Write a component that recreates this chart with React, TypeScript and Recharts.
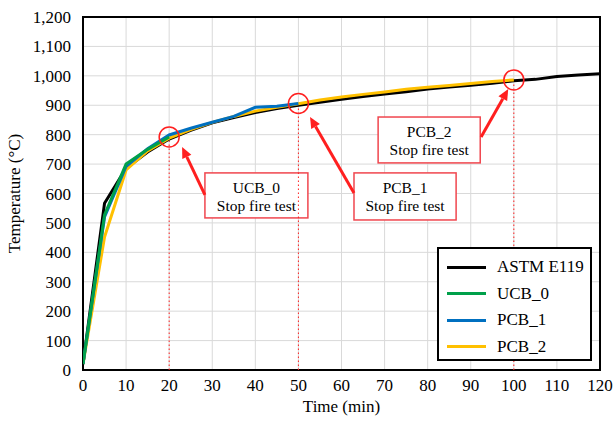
import { LineChart, Line, XAxis, YAxis, CartesianGrid, ReferenceLine, ReferenceArea, ReferenceDot, Label } from "recharts";

const FONT = "Liberation Serif, Times New Roman, Times, DejaVu Serif, serif";

// tick labels
const X_TICKS = [0, 10, 20, 30, 40, 50, 60, 70, 80, 90, 100, 110, 120];
const Y_TICKS = [0, 100, 200, 300, 400, 500, 600, 700, 800, 900, 1000, 1100, 1200];

// ASTM E119 standard curve
const ASTM_TIME = [0, 5, 10, 15, 20, 25, 30, 35, 40, 45, 50, 55, 60, 65, 70, 75, 80, 85, 90, 95, 100, 105, 110, 115, 120];
const ASTM_TEMP = [20, 567, 686, 741, 785, 815, 840, 858, 875, 889, 900, 910, 920, 930, 938, 946, 955, 962, 968, 975, 983, 988, 998, 1003, 1007];

// UCB_0 furnace curve
const UCB0_TIME = [0, 5, 10, 15, 20];
const UCB0_TEMP = [20, 527, 700, 750, 792];

// PCB_1 furnace curve
const PCB1_TIME = [0, 5, 10, 15, 20, 25, 30, 35, 40, 45, 50];
const PCB1_TEMP = [20, 520, 692, 752, 799, 822, 842, 862, 893, 897, 906];

// PCB_2 furnace curve
const PCB2_TIME = [0, 5, 10, 15, 20, 25, 30, 35, 40, 45, 50, 55, 60, 65, 70, 75, 80, 85, 90, 95, 100];
const PCB2_TEMP = [20, 452, 680, 745, 788, 817, 842, 862, 880, 893, 905, 918, 928, 937, 945, 954, 961, 967, 974, 981, 986];

// stop points of each fire test
const STOP_NAMES = ["UCB_0", "PCB_1", "PCB_2"];
const STOP_TIME = [20, 50, 100];
const STOP_TEMP = [792, 906, 986];

// callout boxes (data units): [t1, t2, T1, T2]
const BOXES = [
  [28.3, 52.2, 517, 670],
  [62.9, 86.6, 510, 670],
  [68.5, 92.2, 704, 860],
];
// arrows (data units): from [t, T] to [t, T]
const ARROWS = [
  [[28.3, 595], [23.0, 758]],
  [[62.9, 602], [52.7, 860]],
  [[92.4, 792], [98.7, 955]],
];

const toRows = (ts: number[], vs: number[]) => ts.map((t, i) => ({ t, v: vs[i] }));

const SERIES = [
  { name: "ASTM E119", color: "#000000", data: toRows(ASTM_TIME, ASTM_TEMP) },
  { name: "UCB_0", color: "#00A04A", data: toRows(UCB0_TIME, UCB0_TEMP) },
  { name: "PCB_1", color: "#0070C0", data: toRows(PCB1_TIME, PCB1_TEMP) },
  { name: "PCB_2", color: "#FFC000", data: toRows(PCB2_TIME, PCB2_TEMP) },
];
// draw order: yellow under blue under green
const DRAW_ORDER = [0, 3, 2, 1];

const RED = "#FF1F1F";

const Arrow = (p: any) => {
  const { x1, y1, x2, y2 } = p;
  const ang = Math.atan2(y2 - y1, x2 - x1);
  const len = 11;
  const w = 5;
  const bx = x2 - len * Math.cos(ang);
  const by = y2 - len * Math.sin(ang);
  const px = -Math.sin(ang) * w;
  const py = Math.cos(ang) * w;
  return (
    <g>
      <line x1={x1} y1={y1} x2={bx} y2={by} stroke={RED} strokeWidth={3} />
      <polygon points={`${x2},${y2} ${bx + px},${by + py} ${bx - px},${by - py}`} fill={RED} />
    </g>
  );
};

const makeBox = (name: string) => (p: any) => {
  const { x, y, width, height } = p;
  return (
    <g>
      <rect x={x} y={y} width={width} height={height} fill="#fff" stroke="#F0464E" strokeWidth={1.5} />
      <text x={x + width / 2} y={y + 20} textAnchor="middle" fontSize={15.5} style={{ fontFamily: FONT }} fill="#000">{name}</text>
      <text x={x + width / 2} y={y + 38} textAnchor="middle" fontSize={15.5} style={{ fontFamily: FONT }} fill="#000">Stop fire test</text>
    </g>
  );
};

const tickStyle = { fill: "#000", fontSize: 17, fontFamily: FONT, style: { fontFamily: FONT } };

export default function App() {
  return (
    <div style={{ position: "absolute", left: 0, top: 0, width: 613, height: 421, background: "#fff", fontFamily: FONT }}>
      <LineChart width={613} height={421} margin={{ top: 17, right: 13, bottom: 0, left: 0 }} style={{ fontFamily: FONT }}>
        <CartesianGrid stroke="#D9D9D9" strokeWidth={1} />
        <XAxis
          type="number"
          dataKey="t"
          domain={[0, 120]}
          ticks={X_TICKS}
          interval={0}
          height={51}
          tickLine={false}
          axisLine={false}
          tickSize={0}
          tickMargin={9}
          tick={tickStyle}
          allowDataOverflow
        >
          <Label value="Time (min)" position="insideBottom" offset={9} style={{ fill: "#000", fontSize: 17, fontFamily: FONT }} />
        </XAxis>
        <YAxis
          type="number"
          domain={[0, 1200]}
          ticks={Y_TICKS}
          interval={0}
          width={83}
          tickLine={false}
          axisLine={false}
          tickSize={0}
          tickMargin={12}
          tickFormatter={(v: number) => v.toLocaleString("en-US")}
          tick={tickStyle}
          allowDataOverflow
        >
          <Label
            value="Temperature (°C)"
            angle={-90}
            position="insideLeft"
            offset={14}
            style={{ fill: "#000", fontSize: 17, fontFamily: FONT, textAnchor: "middle" }}
          />
        </YAxis>

        {STOP_TIME.map((t, i) => (
          <ReferenceLine
            key={"v" + i}
            segment={[{ x: t, y: 0 }, { x: t, y: STOP_TEMP[i] }]}
            stroke={RED}
            strokeWidth={1}
            strokeDasharray="1.5 2.5"
          />
        ))}

        {DRAW_ORDER.map((i) => (
          <Line
            key={SERIES[i].name}
            data={SERIES[i].data}
            dataKey="v"
            name={SERIES[i].name}
            type="linear"
            stroke={SERIES[i].color}
            strokeWidth={3}
            dot={false}
            activeDot={false}
            isAnimationActive={false}
          />
        ))}

        <ReferenceArea x1={0} x2={120} y1={0} y2={1200} fill="none" stroke="#000" strokeWidth={2} fillOpacity={0} />

        {STOP_TIME.map((t, i) => (
          <ReferenceDot key={"c" + i} x={t} y={STOP_TEMP[i]} r={10} fill="none" stroke={RED} strokeWidth={1.5} />
        ))}

        {ARROWS.map((a, i) => (
          <ReferenceLine key={"a" + i} segment={[{ x: a[0][0], y: a[0][1] }, { x: a[1][0], y: a[1][1] }]} shape={Arrow} />
        ))}

        {BOXES.map((b, i) => (
          <ReferenceArea key={"b" + i} x1={b[0]} x2={b[1]} y1={b[2]} y2={b[3]} shape={makeBox(STOP_NAMES[i])} />
        ))}
      </LineChart>

      <div
        style={{
          position: "absolute",
          left: 437,
          top: 247,
          width: 151,
          height: 110,
          border: "2px solid #000",
          background: "#fff",
          boxSizing: "content-box",
          fontFamily: FONT,
        }}
      >
        {SERIES.map((s, i) => (
          <div key={s.name} style={{ position: "absolute", left: 8, top: 5 + i * 26.5, height: 26, display: "flex", alignItems: "center" }}>
            <div style={{ width: 39, height: 3, background: s.color }} />
            <span style={{ marginLeft: 11, fontSize: 17, color: "#000", lineHeight: "26px" }}>{s.name}</span>
          </div>
        ))}
      </div>
    </div>
  );
}
